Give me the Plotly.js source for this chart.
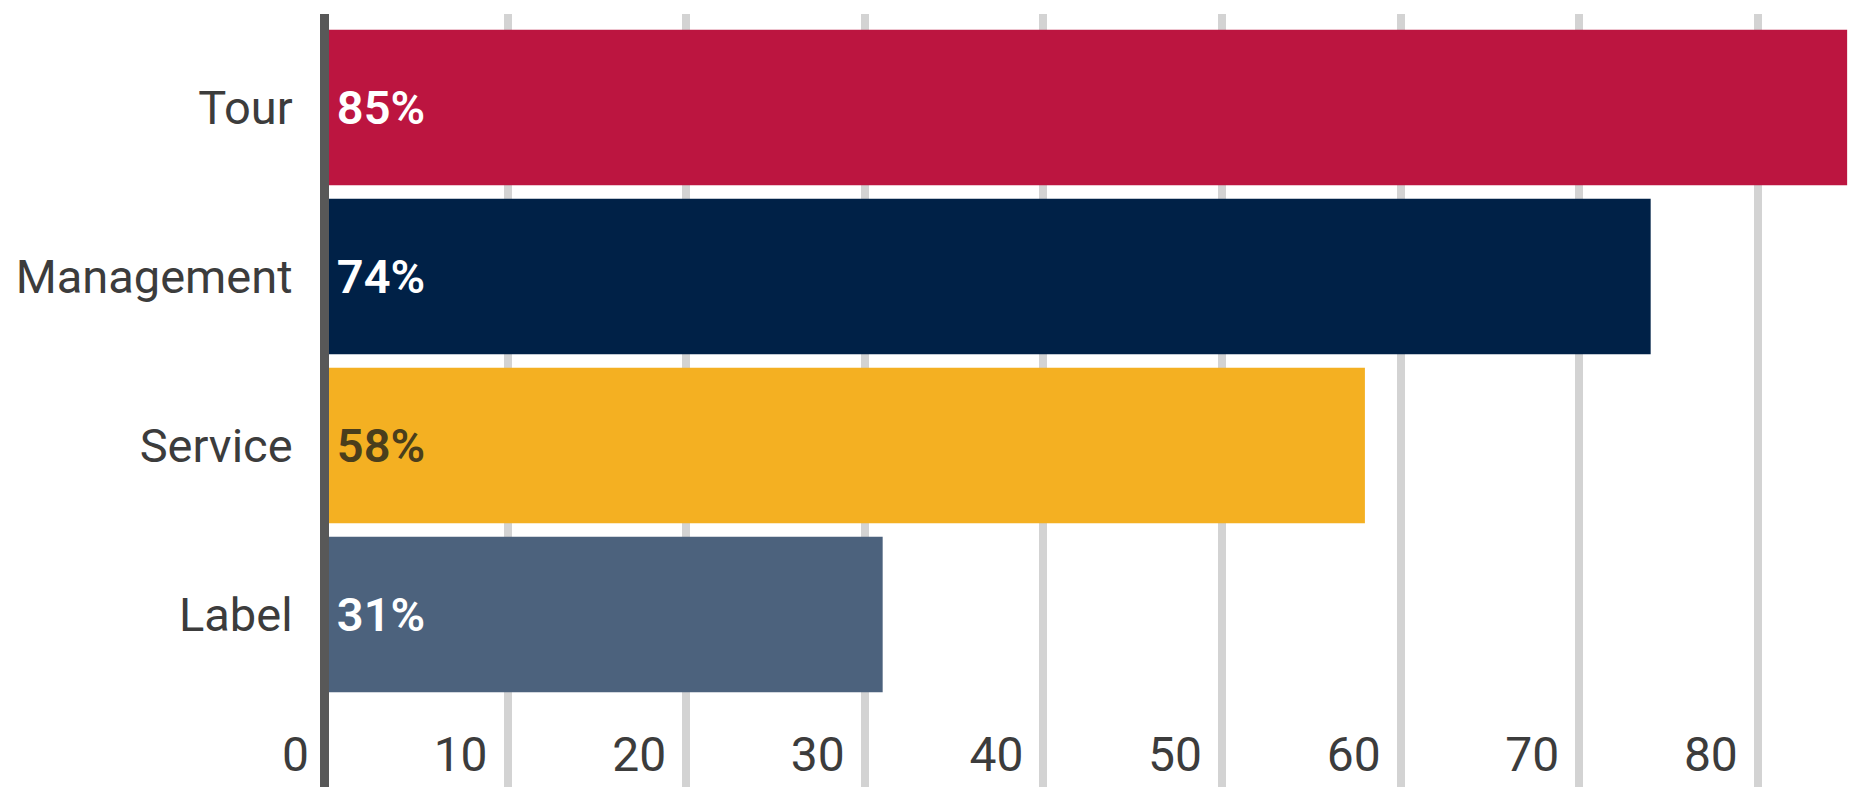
<!DOCTYPE html>
<html>
<head>
<meta charset="utf-8">
<script src="https://cdn.plot.ly/plotly-3.0.1.min.js"></script>
<style>
html,body{margin:0;padding:0;background:#fff;}
#chart{width:1865px;height:787px;}
</style>
</head>
<body>
<div id="chart"></div>
<script>
const categories = ["Tour", "Management", "Service", "Label"];
const values = [85, 74, 58, 31];
const barColors = ["#BC1540", "#002147", "#F4B022", "#4C627D"];
const textColors = ["#ffffff", "#ffffff", "#4a3e1c", "#ffffff"];
const xTicks = [0, 10, 20, 30, 40, 50, 60, 70, 80];

const FONT = "Roboto";

const trace = {
  type: "bar",
  orientation: "h",
  y: categories,
  x: values,
  marker: {color: barColors, line: {width: 0}},
  texttemplate: "\u200A%{x}%",
  textposition: "inside",
  insidetextanchor: "start",
  textangle: 0,
  constraintext: "none",
  insidetextfont: {family: FONT, size: 47, color: textColors, weight: 600},
  hoverinfo: "none"
};

const layout = {
  width: 1865,
  height: 787,
  margin: {l: 329, r: 0, t: 14, b: 0, pad: 0},
  paper_bgcolor: "#ffffff",
  plot_bgcolor: "#ffffff",
  showlegend: false,
  bargap: 0.08,
  font: {family: FONT, size: 47, color: "#3c3c3c"},
  xaxis: {
    range: [0, 86.0],
    tickvals: xTicks,
    ticktext: xTicks.map(String),
    showgrid: true,
    gridcolor: "#d3d3d3",
    gridwidth: 8,
    zeroline: false,
    showline: false,
    ticks: "",
    ticklabelposition: "inside left",
    ticklabeloverflow: "allow",
    ticklabelshift: -20,
    tickfont: {family: FONT, size: 48, color: "#3c3c3c"},
    fixedrange: true
  },
  yaxis: {
    type: "category",
    categoryorder: "array",
    categoryarray: categories,
    range: [4.02, -0.553],
    showgrid: false,
    zeroline: false,
    showline: true,
    linecolor: "#585858",
    linewidth: 9,
    ticks: "",
    ticklabelstandoff: 18,
    tickfont: {family: FONT, size: 47, color: "#3c3c3c"},
    fixedrange: true
  }
};

Plotly.newPlot("chart", [trace], layout, {displayModeBar: false, staticPlot: true});
</script>
</body>
</html>
